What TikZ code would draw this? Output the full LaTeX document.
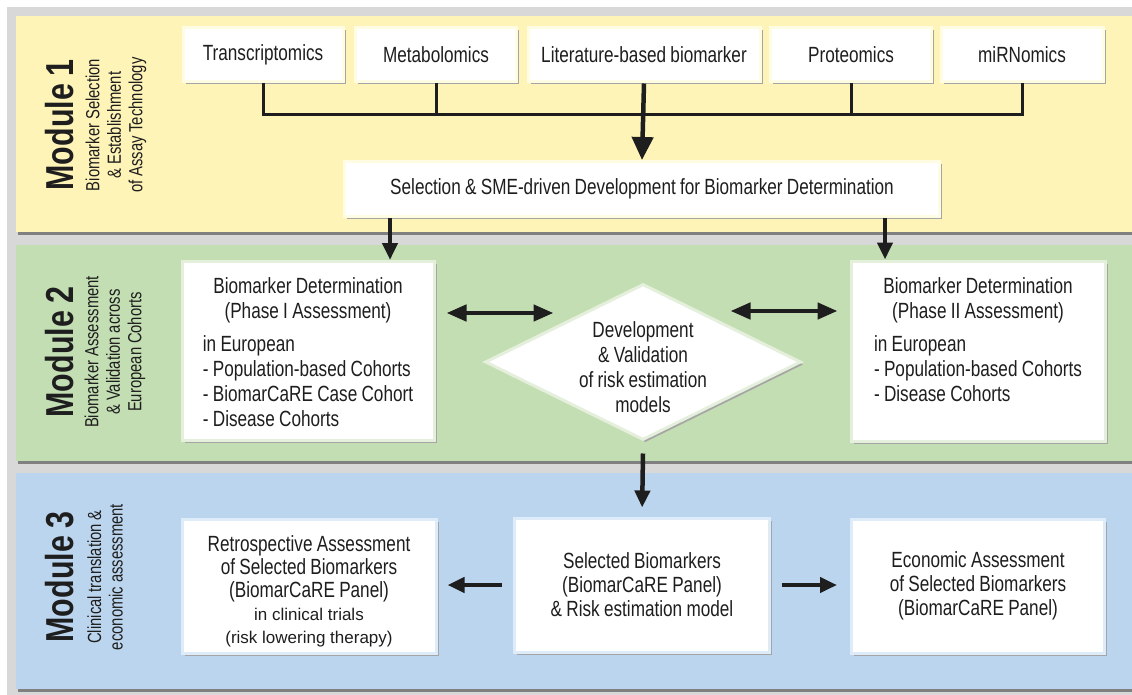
\documentclass[tikz,border=0pt]{standalone}
\usepackage{fontspec}
\setmainfont{Liberation Sans}[FakeStretch=0.78, WordSpace=0.9]
\newfontfamily\plainsf{Liberation Sans}
\usetikzlibrary{positioning,shapes.geometric,shadows,arrows.meta}

\definecolor{framegray}{RGB}{216,216,216}
\definecolor{panelshade}{RGB}{128,128,128}
\definecolor{ylw}{RGB}{255,244,184}
\definecolor{grn}{RGB}{196,222,179}
\definecolor{blu}{RGB}{188,213,238}
\definecolor{ylwedge}{RGB}{255,252,228}
\definecolor{grnedge}{RGB}{228,240,220}
\definecolor{bluedge}{RGB}{222,235,248}
\definecolor{boxshade}{RGB}{165,165,165}
\definecolor{ink}{RGB}{30,30,30}

\tikzset{
    box/.style={draw=#1, line width=3pt, fill=white, inner sep=0pt, align=center, text=ink,
        font=\fontsize{22}{25}\selectfont,
        drop shadow={shadow xshift=2.5pt, shadow yshift=-2.5pt, fill=boxshade, opacity=1}},
    modlabel/.style={rotate=90, text=ink, font=\bfseries\fontsize{39}{39}\selectfont},
    modsub/.style={rotate=90, align=center, text=ink, font=\fontsize{19}{21.5}\selectfont},
    tline/.style={line width=3pt, ink},
    arr/.style={line width=4.5pt, ink, -{Triangle[length=17pt,width=15pt]}},
    bigarr/.style={line width=4.5pt, ink, -{Triangle[length=23pt,width=21pt]}},
    darr/.style={line width=4.5pt, ink, {Triangle[length=20pt,width=16pt]}-{Triangle[length=20pt,width=16pt]}},
}

\begin{document}
\begin{tikzpicture}[x=1pt, y=-1pt]
    \useasboundingbox (0,0) rectangle (1132,695);
    \fill[white] (0,0) rectangle (1132,695);
    \fill[framegray] (7,7) rectangle (1132,695);

    % module panels
    \fill[panelshade] (18,16) rectangle (1132,235);
    \fill[ylw] (16,16) rectangle (1132,232);
    \fill[panelshade] (18,245) rectangle (1132,464);
    \fill[grn] (16,245) rectangle (1132,461);
    \fill[panelshade] (18,473) rectangle (1132,692);
    \fill[blu] (16,473) rectangle (1132,689);

    \node[modlabel] (m1) at (60,125) {Module 1};
    \node[modsub] (m1sub) at (116,125) {Biomarker Selection\\\& Establishment\\of Assay Technology};
    \node[modlabel] (m2) at (60,352) {Module 2};
    \node[modsub] (m2sub) at (115,352) {Biomarker Assessment\\\& Validation across\\European Cohorts};
    \node[modlabel] (m3) at (60,577) {Module 3};
    \node[modsub] (m3sub) at (105,577) {Clinical translation \&\\economic assessment};

    % module 1
    \foreach \x/\w/\n/\t in {263/160/trans/Transcriptomics, 436/161/metab/Metabolomics,
        644/232/lit/Literature-based biomarker, 851/161/prot/Proteomics, 1022/162/mirna/miRNomics}
        \node[box=ylwedge, minimum width=\w pt, minimum height=54pt] (\n) at (\x,55) {\t};

    \node[box=ylwedge, minimum width=595pt, minimum height=55pt] (sel) at (642,189)
        {Selection \& SME-driven Development for Biomarker Determination};

    \coordinate (junc) at (644,115);
    \foreach \n in {trans,metab,prot,mirna}
        \draw[tline] (\n.south) |- (junc);
    \draw[bigarr] (lit.south) -- (sel.north);

    % module 2
    \node[box=grnedge, minimum width=252pt, minimum height=179pt] (ph1) at (308,351)
        {\begin{tabular}{@{}l@{}}
        \multicolumn{1}{@{}c@{}}{\rule{0pt}{25.5pt}Biomarker Determination}\\
        \multicolumn{1}{@{}c@{}}{(Phase I Assessment)}\\[8pt]
        in European\\- Population-based Cohorts\\- BiomarCaRE Case Cohort\\- Disease Cohorts
        \end{tabular}};
    \node[box=grnedge, minimum width=254pt, minimum height=180pt] (ph2) at (978,351)
        {\begin{tabular}{@{}l@{}}
        \multicolumn{1}{@{}c@{}}{\rule{0pt}{25pt}Biomarker Determination}\\
        \multicolumn{1}{@{}c@{}}{(Phase II Assessment)}\\[8pt]
        in European\\- Population-based Cohorts\\- Disease Cohorts\\ \mbox{}
        \end{tabular}};
    \node[diamond, draw=grnedge, line width=3pt, fill=white, inner sep=0pt,
        minimum width=316pt, minimum height=156pt,
        drop shadow={shadow xshift=2.5pt, shadow yshift=-2.5pt, fill=boxshade, opacity=1}] (dev) at (643,362) {};
    \node[align=center, text=ink, font=\fontsize{22}{25}\selectfont] (devtxt) at (643,367)
        {Development\\\& Validation\\of risk estimation\\models};

    \draw[arr] ([xshift=-252pt]sel.south) -- ([xshift=-252pt]sel.south |- ph1.north);
    \draw[arr] ([xshift=243pt]sel.south) -- ([xshift=243pt]sel.south |- ph2.north);
    \draw[darr] ([xshift=11pt,yshift=38pt]ph1.east) -- ++(107,0);
    \draw[darr] ([xshift=-12pt,yshift=40pt]ph2.west) -- ++(-107,0);

    % module 3
    \node[box=bluedge, minimum width=254pt, minimum height=134pt, font=\fontsize{22}{23}\selectfont] (retro) at (309,586)
        {\rule{0pt}{26pt}Retrospective Assessment\\of Selected Biomarkers\\(BiomarCaRE Panel)\\{\plainsf\fontsize{17}{21}\selectfont in clinical trials}\\{\plainsf\fontsize{17}{21}\selectfont (risk lowering therapy)}};
    \node[box=bluedge, minimum width=255pt, minimum height=134pt, font=\fontsize{22}{24}\selectfont] (selb) at (642,585)
        {Selected Biomarkers\\(BiomarCaRE Panel)\\\& Risk estimation model};
    \node[box=bluedge, minimum width=253pt, minimum height=134pt, font=\fontsize{22}{24}\selectfont] (econ) at (978,586)
        {Economic Assessment\\of Selected Biomarkers\\(BiomarCaRE Panel)};

    \draw[arr, shorten >=9pt] ([yshift=-12pt]dev.south) -- (selb.north);
    \draw[arr] ([xshift=-11pt]selb.west) -- ([xshift=10pt]selb.west -| retro.east);
    \draw[arr] ([xshift=11pt]selb.east) -- ([xshift=-13pt]selb.east -| econ.west);
\end{tikzpicture}
\end{document}
